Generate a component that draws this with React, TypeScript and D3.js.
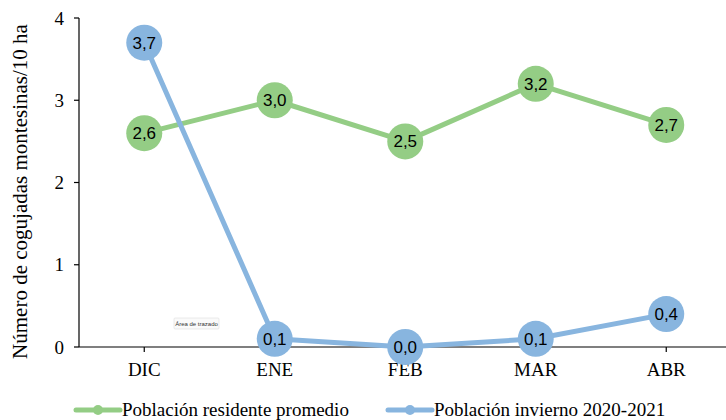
import React from "react";
import * as d3 from "d3";

const months = ["DIC", "ENE", "FEB", "MAR", "ABR"];
const residentValues = [2.6, 3.0, 2.5, 3.2, 2.7];
const winterValues = [3.7, 0.1, 0.0, 0.1, 0.4];
const yTicks = [0, 1, 2, 3, 4];
const seriesNames = ["Población residente promedio", "Población invierno 2020-2021"];

const W = 726;
const H = 420;
const left = 79;
const top = 18;
const bottom = 347;
const bandW = 130.5;

const GREEN = "#94CD85";
const BLUE = "#88B5DF";

export default function App() {
  const x = d3
    .scaleBand<string>()
    .domain(months)
    .range([left, left + bandW * months.length]);
  const y = d3.scaleLinear().domain([0, 4]).range([bottom, top]);
  const cx = (m: string) => (x(m) as number) + x.bandwidth() / 2;

  const line = d3
    .line<number>()
    .x((_, i) => cx(months[i]))
    .y((v) => y(v));

  const fmt = (v: number) => v.toFixed(1).replace(".", ",");
  const serif = "'Liberation Serif', 'Times New Roman', serif";
  const sans = "'Liberation Sans', Arial, sans-serif";

  const series = [
    { values: residentValues, color: GREEN },
    { values: winterValues, color: BLUE },
  ];

  const legendY = 410;

  return (
    <svg
      width={W}
      height={H}
      style={{ position: "absolute", left: 0, top: 0, background: "#fff" }}
    >
      {/* axes */}
      <line x1={left} x2={W} y1={bottom} y2={bottom} stroke="#000" strokeWidth={1.2} />
      <line x1={left} x2={left} y1={top} y2={bottom} stroke="#000" strokeWidth={1.2} />
      {yTicks.map((t) => (
        <g key={t}>
          <line x1={left - 5} x2={left} y1={y(t)} y2={y(t)} stroke="#000" strokeWidth={1.2} />
          <text
            x={64}
            y={y(t)}
            dy="0.35em"
            textAnchor="end"
            fontFamily={serif}
            fontSize={19}
          >
            {t}
          </text>
        </g>
      ))}
      {months.map((m) => (
        <g key={m}>
          <line x1={cx(m)} x2={cx(m)} y1={bottom} y2={bottom + 5} stroke="#000" strokeWidth={1.2} />
          <text
            x={cx(m)}
            y={376}
            textAnchor="middle"
            fontFamily={serif}
            fontSize={19}
          >
            {m}
          </text>
        </g>
      ))}
      <text
        transform={`translate(27, 191.5) rotate(-90)`}
        textAnchor="middle"
        fontFamily={serif}
        fontSize={21}
      >
        Número de cogujadas montesinas/10 ha
      </text>

      {/* plot-area tooltip */}
      <g>
        <rect x={174} y={318} width={45} height={11} fill="#fafafa" stroke="#ddd" strokeWidth={0.6} rx={1} />
        <text x={196.5} y={326} textAnchor="middle" fontFamily={sans} fontSize={6} fill="#333">
          Área de trazado
        </text>
      </g>

      {/* series */}
      {series.map((s, si) => (
        <g key={si}>
          <path d={line(s.values) || ""} fill="none" stroke={s.color} strokeWidth={5} strokeLinejoin="round" />
          {s.values.map((v, i) => (
            <g key={i}>
              <circle cx={cx(months[i])} cy={y(v)} r={18} fill={s.color} />
              <text
                x={cx(months[i])}
                y={y(v)}
                dy="0.36em"
                textAnchor="middle"
                fontFamily={sans}
                fontSize={17}
                fill="#000"
              >
                {fmt(v)}
              </text>
            </g>
          ))}
        </g>
      ))}

      {/* legend */}
      {[
        { x0: 76, color: GREEN, name: seriesNames[0] },
        { x0: 388, color: BLUE, name: seriesNames[1] },
      ].map((l, i) => (
        <g key={i}>
          <line x1={l.x0} x2={l.x0 + 44} y1={legendY} y2={legendY} stroke={l.color} strokeWidth={5} strokeLinecap="round" />
          <circle cx={l.x0 + 22} cy={legendY} r={5} fill={l.color} />
          <text x={l.x0 + 46} y={legendY + 6} fontFamily={serif} fontSize={19}>
            {l.name}
          </text>
        </g>
      ))}
    </svg>
  );
}
